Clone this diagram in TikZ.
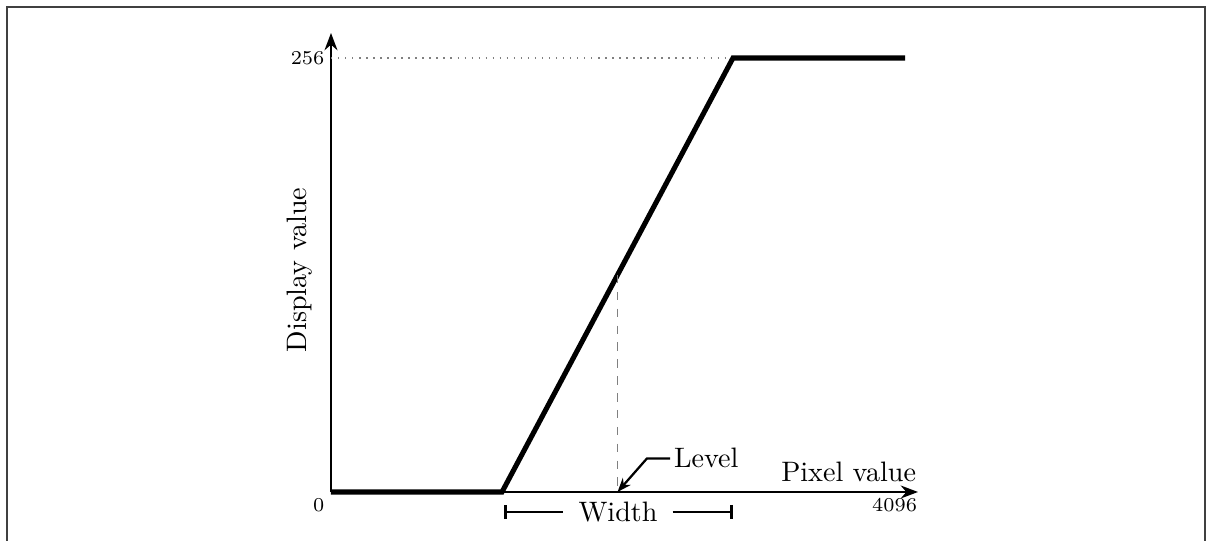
\documentclass[tikz,border=0pt]{standalone}
\usepackage{tikz}
\usetikzlibrary{arrows.meta, positioning, calc}

\begin{document}
\begin{tikzpicture}[>=Stealth, line width=0.7pt]
  \useasboundingbox (-4.1375,-0.6125) rectangle (10.9625,6.15);
  % frame
  \draw[black!75, line width=0.4pt] (-4.05,-0.6125) -- (-4.05,6.0625) -- (10.925,6.0625) -- (10.925,-0.6125);
  % axes
  \coordinate (o) at (0,0);
  \coordinate (xend) at (7.3375,0);
  \coordinate (yend) at (0,5.7375);
  \draw[->] (o) -- (xend);
  \draw[->] (o) -- (yend);
  \node[left, font=\scriptsize, inner sep=2pt] (ymax) at (0,5.425) {256};
  \node[below left, font=\scriptsize, inner sep=2pt] (zero) at (o) {0};
  \node[anchor=north east, font=\scriptsize, inner sep=0pt] (xmax) at ([yshift=-2pt]xend) {4096};
  \node[rotate=90] (ylab) at (-0.3875,2.775) {Display value};
  \node[above left, inner sep=1pt] (xlab) at (7.36,0.08) {Pixel value};
  % transfer curve
  \coordinate (lo) at (2.1375,0);
  \coordinate (hi) at (5.025,5.425);
  \draw[gray, dotted, line width=0.5pt] (ymax.east) -- (hi);
  \draw[line width=1.8pt, line join=miter] (o) -- (lo) -- (hi) -- (7.175,5.425);
  % level
  \coordinate (mid) at ($(lo)!0.5!(hi)$);
  \coordinate (foot) at (mid |- o);
  \draw[gray, dashed, line width=0.5pt] (mid) -- (foot);
  \node[right, inner sep=1pt] (level) at (4.24,0.42) {Level};
  \draw[-{Stealth[length=5pt]}, line width=0.8pt] (level.west) -- (3.95,0.42) -- (foot);
  % width
  \node[inner sep=2pt] (width) at (3.5875,-0.25) {\rule{0pt}{1.4ex}Width};
  \draw[{Bar[width=5pt, line width=1.1pt]}-, line width=0.8pt] (2.1625,-0.25) -- ([xshift=-3pt]width.west);
  \draw[-{Bar[width=5pt, line width=1.1pt]}, line width=0.8pt] ([xshift=3pt]width.east) -- (5.025,-0.25);
\end{tikzpicture}
\end{document}
